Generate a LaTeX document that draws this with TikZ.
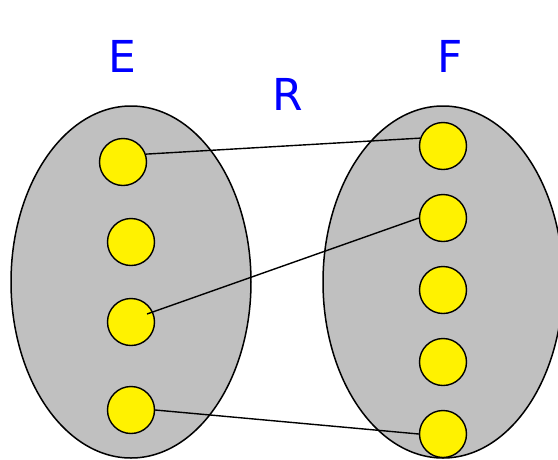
\documentclass[tikz,border=0pt]{standalone}
\usepackage{fontspec}
\setmainfont{DejaVu Sans}
\usetikzlibrary{calc}
\definecolor{setgray}{RGB}{192,192,192}
\begin{document}
\begin{tikzpicture}[x=1pt,y=-1pt,
  setbox/.style={draw=black,fill=setgray,line width=1.5pt},
  elem/.style={circle,draw=black,fill=yellow,line width=1.4pt,minimum size=47pt,inner sep=0pt},
  lbl/.style={text=blue,font=\fontsize{44}{44}\selectfont,inner sep=0pt,anchor=base},
  link/.style={draw=black,line width=1.4pt}]
\useasboundingbox (0,0) rectangle (558,459);
\clip (0,0) rectangle (558,459);
\draw[setbox] (131,282) ellipse [x radius=120,y radius=176];
\draw[setbox] (443,282) ellipse [x radius=120,y radius=176];
\node[lbl] (E) at (122,72.7) {E};
\node[lbl] (F) at (450.5,72.7) {F};
\node[lbl] (R) at (287.5,110.7) {R};
\node[elem] (l1) at (123,162) {};
\node[elem] (l2) at (131,242) {};
\node[elem] (l3) at (131,322) {};
\node[elem] (l4) at (131,410) {};
\node[elem] (r1) at (443,146) {};
\node[elem] (r2) at (443,218) {};
\node[elem] (r3) at (443,290) {};
\node[elem] (r4) at (443,362) {};
\node[elem] (r5) at (443,434) {};
\coordinate (l3in) at ($(l3.center)+(16,-8)$);
\draw[link] (l1.19) -- (r1.161);
\draw[link] (l3in) -- (r2.west);
\draw[link] (l4.east) -- (r5.west);
\end{tikzpicture}
\end{document}
